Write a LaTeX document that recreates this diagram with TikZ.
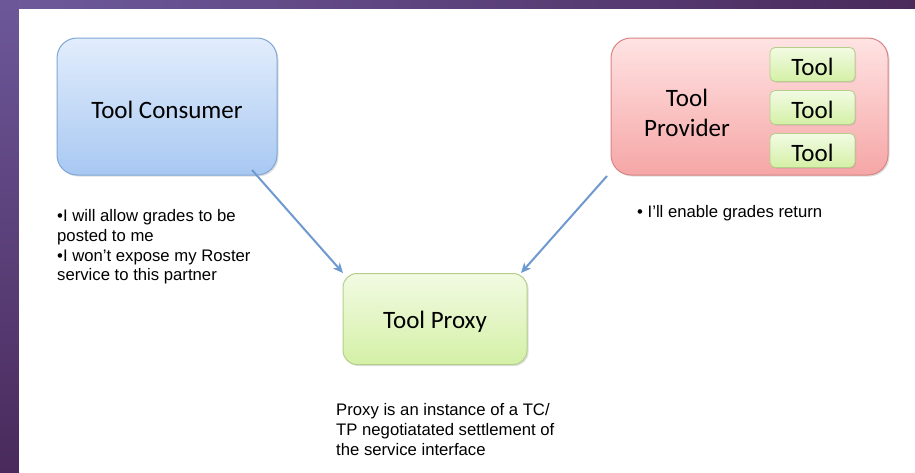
\documentclass[tikz,border=0pt]{standalone}
\usepackage{fontspec}
\setmainfont{Liberation Sans}
\newfontfamily\calib{Carlito}
\usetikzlibrary{arrows.meta,shadows}
\definecolor{purpA}{HTML}{6E5A9C}
\definecolor{purpB}{HTML}{4A2A5C}
\definecolor{bluetop}{HTML}{E2EDFC}
\definecolor{bluebot}{HTML}{A8C8F2}
\definecolor{blueline}{HTML}{7FA6D6}
\definecolor{redtop}{HTML}{FFE3E3}
\definecolor{redbot}{HTML}{F6A6A6}
\definecolor{redline}{HTML}{D98484}
\definecolor{greentop}{HTML}{F2FBE3}
\definecolor{greenbot}{HTML}{D4F0A6}
\definecolor{greenline}{HTML}{B5CF8A}
\definecolor{arrowc}{HTML}{6F9AD0}
\tikzset{
  bigbox/.style={rounded corners=20pt, line width=1pt, drop shadow={shadow xshift=1.5pt,shadow yshift=-1.5pt,opacity=0.25}},
  toolbox/.style={rounded corners=5pt, line width=0.8pt, drop shadow={shadow xshift=1pt,shadow yshift=-1pt,opacity=0.25}},
  titletext/.style={font=\calib\fontsize{25}{30}\selectfont, align=center, text=black},
  tooltext/.style={font=\calib\fontsize{25}{30}\selectfont, text=black},
  note/.style={font=\fontsize{16.7}{19.6}\selectfont, align=left, anchor=north west, inner sep=0pt, text=black},
  conn/.style={arrowc, line width=2pt, -{Stealth[length=10pt,width=9pt,inset=3pt]}}
}
\begin{document}
\begin{tikzpicture}[x=1pt,y=-1pt]
\useasboundingbox (0,0) rectangle (915,472);
\shade[left color=purpA, right color=purpB] (0,0) rectangle (915,9);
\shade[top color=purpA!95!purpB, bottom color=purpB] (0,0) rectangle (19,472);
\fill[white] (19,9) rectangle (915,472);

\node[bigbox, draw=blueline, top color=bluetop, bottom color=bluebot, minimum width=220pt, minimum height=137pt, inner sep=0pt] (tc) at (167,106.5) {};
\node[titletext] (tct) at (167,110) {Tool Consumer};

\node[bigbox, draw=redline, top color=redtop, bottom color=redbot, minimum width=277pt, minimum height=137pt, inner sep=0pt] (tp) at (749.5,106.5) {};
\node[titletext] (tpt) at (687,112.5) {Tool\\Provider};

\node[toolbox, draw=greenline, top color=greentop, bottom color=greenbot, minimum width=85pt, minimum height=34pt, inner sep=0pt] (t1) at (812.5,64.5) {};
\node[tooltext] at (812.5,67) {Tool};
\node[toolbox, draw=greenline, top color=greentop, bottom color=greenbot, minimum width=85pt, minimum height=34pt, inner sep=0pt] (t2) at (812.5,107.5) {};
\node[tooltext] at (812.5,110) {Tool};
\node[toolbox, draw=greenline, top color=greentop, bottom color=greenbot, minimum width=85pt, minimum height=34pt, inner sep=0pt] (t3) at (812.5,150.5) {};
\node[tooltext] at (812.5,153) {Tool};

\node[bigbox, rounded corners=14pt, draw=greenline, top color=greentop, bottom color=greenbot, minimum width=184pt, minimum height=91pt, inner sep=0pt] (proxy) at (435,319) {};
\node[titletext] at (435,322) {Tool Proxy};

\coordinate (s1) at (252,170);
\coordinate (e1) at (343,273);
\coordinate (s2) at (607,176);
\coordinate (e2) at (521,273);
\draw[conn] (s1) -- (e1);
\draw[conn] (s2) -- (e2);

\node[note] (n1) at (57,209.5) {•I will allow grades to be\\posted to me\\•I won’t expose my Roster\\service to this partner};
\node[note] (n2) at (637,205.5) {• I’ll enable grades return};
\node[note] (n3) at (336,403.5) {Proxy is an instance of a TC/\\TP negotiatated settlement of\\the service interface};
\end{tikzpicture}
\end{document}
